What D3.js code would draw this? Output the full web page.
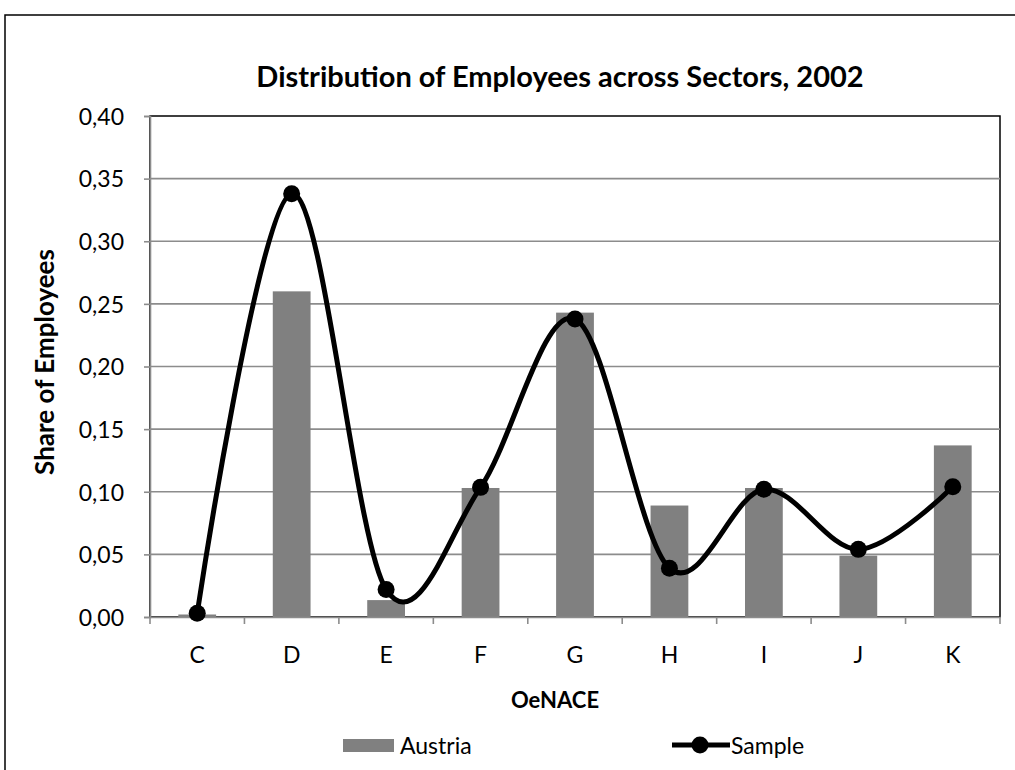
<!DOCTYPE html>
<html><head><meta charset="utf-8">
<script src="https://cdn.jsdelivr.net/npm/d3@7"></script>
<style>body{margin:0;background:#fff}svg{display:block}text{font-family:Lato,"Open Sans",sans-serif}</style>
</head><body>
<svg id="c" width="1015" height="770"></svg>
<script>
const categories = ["C","D","E","F","G","H","I","J","K"];
const austria = [0.002,0.260,0.0135,0.103,0.243,0.089,0.103,0.049,0.137];
const sample = [0.003,0.338,0.022,0.1035,0.238,0.039,0.102,0.054,0.104];
const yTicks = [0,0.05,0.10,0.15,0.20,0.25,0.30,0.35,0.40];
const title = "Distribution of Employees across Sectors, 2002";

const svg = d3.select("#c");
const L=150,R=1000,T=116,B=617;
svg.append("rect").attr("x",5).attr("y",15).attr("width",1100).attr("height",900)
  .attr("fill","#fff").attr("stroke","#000").attr("stroke-width",1.5);

const x = d3.scaleBand().domain(categories).range([L,R]).paddingInner(0).paddingOuter(0);
const y = d3.scaleLinear().domain([0,0.40]).range([B,T]);
const fmt = d => d3.format(".2f")(d).replace(".",",");

svg.append("rect").attr("x",L).attr("y",T).attr("width",R-L).attr("height",B-T)
  .attr("fill","none").attr("stroke","#000").attr("stroke-width",1.5);
svg.append("g").selectAll("line").data(yTicks.filter(d=>d>0&&d<0.4)).join("line")
  .attr("x1",L).attr("x2",R).attr("y1",d=>y(d)).attr("y2",d=>y(d))
  .attr("stroke","#8c8c8c").attr("stroke-width",1.6);

svg.append("g").selectAll("rect").data(austria).join("rect")
  .attr("x",(d,i)=>x(categories[i])+x.bandwidth()*0.3)
  .attr("width",x.bandwidth()*0.4)
  .attr("y",d=>y(d)).attr("height",d=>B-y(d))
  .attr("fill","#808080");

const ya = svg.append("g").attr("transform",`translate(${L},0)`)
  .call(d3.axisLeft(y).tickValues(yTicks).tickFormat(fmt).tickSize(6).tickPadding(20));
ya.select(".domain").attr("stroke","#8c8c8c").attr("stroke-width",1.6);
ya.selectAll(".tick line").attr("stroke","#8c8c8c").attr("stroke-width",1.6);
ya.selectAll("text").attr("font-size",23).attr("fill","#000").attr("dy","0.36em");

const xa = svg.append("g").attr("transform",`translate(0,${B})`)
  .call(d3.axisBottom(x).tickSize(0).tickPadding(30));
xa.select(".domain").attr("stroke","#8c8c8c").attr("stroke-width",1.6);
xa.selectAll("text").attr("font-size",23).attr("fill","#000");
svg.append("g").selectAll("line").data(d3.range(categories.length+1)).join("line")
  .attr("x1",i=>L+i*x.step()).attr("x2",i=>L+i*x.step())
  .attr("y1",B).attr("y2",B+7).attr("stroke","#8c8c8c").attr("stroke-width",1.6);

const cx = (d,i)=>x(categories[i])+x.bandwidth()/2;
svg.append("path").datum(sample)
  .attr("d",d3.line().x(cx).y(d=>y(d)).curve(d3.curveCardinal.tension(0)))
  .attr("fill","none").attr("stroke","#000").attr("stroke-width",5);
svg.append("g").selectAll("circle").data(sample).join("circle")
  .attr("cx",cx).attr("cy",d=>y(d)).attr("r",8.5).attr("fill","#000");

svg.append("text").attr("x",560).attr("y",87).attr("text-anchor","middle")
  .attr("font-size",29).attr("font-weight","bold").text(title);
svg.append("text").attr("x",555).attr("y",708).attr("text-anchor","middle")
  .attr("font-size",22).attr("font-weight","bold").text("OeNACE");
svg.append("text").attr("transform","translate(54,362) rotate(-90)").attr("text-anchor","middle")
  .attr("font-size",26).attr("font-weight","bold").text("Share of Employees");

svg.append("rect").attr("x",343).attr("y",739).attr("width",51).attr("height",13).attr("fill","#808080");
svg.append("text").attr("x",400).attr("y",754).attr("font-size",23).text("Austria");
svg.append("line").attr("x1",672).attr("x2",730).attr("y1",745).attr("y2",745).attr("stroke","#000").attr("stroke-width",5);
svg.append("circle").attr("cx",700).attr("cy",745).attr("r",8.5).attr("fill","#000");
svg.append("text").attr("x",731).attr("y",754).attr("font-size",23).text("Sample");
</script>
</body></html>
